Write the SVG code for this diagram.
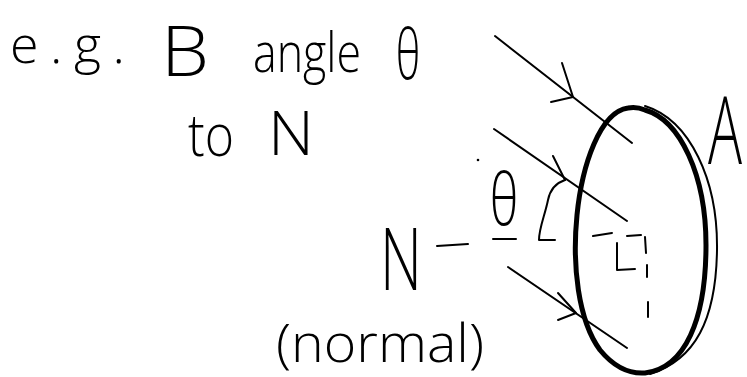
<svg xmlns="http://www.w3.org/2000/svg" width="747" height="377" viewBox="0 0 747 377">
<style>
.t{font-family:"Open Sans","Liberation Sans",sans-serif;font-weight:300;fill:#000}
.ln{fill:none;stroke:#000;stroke-width:2;stroke-linecap:round;stroke-linejoin:round}
.thick{fill:none;stroke:#000;stroke-width:5;stroke-linecap:round;stroke-linejoin:round}
</style>
<rect width="747" height="377" fill="#fff"/>
<g id="caption">
<text class="t" x="10" y="63" font-size="52" textLength="115" lengthAdjust="spacing">e.g.</text>
<text class="t" x="161" y="76" font-size="70" textLength="48" lengthAdjust="spacingAndGlyphs">B</text>
<text class="t" x="253" y="72" font-size="56" textLength="108" lengthAdjust="spacingAndGlyphs">angle</text>
<text class="t" x="396" y="79" font-size="70" textLength="24" lengthAdjust="spacingAndGlyphs">θ</text>
<text class="t" x="188" y="156" font-size="58" textLength="46" lengthAdjust="spacingAndGlyphs">to</text>
<text class="t" x="268" y="155" font-size="60" textLength="46" lengthAdjust="spacingAndGlyphs">N</text>
</g>
<g id="normal-label">
<text class="t" x="380" y="290" font-size="86" textLength="42" lengthAdjust="spacingAndGlyphs">N</text>
<line class="ln" x1="437" y1="246" x2="468" y2="244"/>
<text class="t" x="490" y="225" font-size="72" textLength="28" lengthAdjust="spacingAndGlyphs">θ</text>
<line class="ln" x1="493" y1="239" x2="516" y2="239"/>
<text class="t" x="276" y="362" font-size="54" textLength="208" lengthAdjust="spacingAndGlyphs">(normal)</text>
<circle cx="478" cy="160" r="1.3" fill="#000"/>
</g>
<g id="area">
<path class="thick" d="M628,108 C600,112 582,165 577,215 C572,265 578,320 600,350 C614,367 630,374 645,373 C685,368 706,320 706,245 C706,175 680,120 645,110 C638,107 633,107 628,108 Z"/>
<path class="ln" stroke-width="3.5" d="M645,106 C690,120 718,180 717,250 C716,320 695,360 650,374"/>
<text class="t" x="708" y="164" font-size="94" textLength="34" lengthAdjust="spacingAndGlyphs">A</text>
</g>
<g id="connectors">
<line class="ln" x1="495" y1="36" x2="632" y2="143"/>
<polyline class="ln" points="562,63 573,97 551,102"/>
<line class="ln" x1="494" y1="129" x2="627" y2="221"/>
<polyline class="ln" points="553,156 565,180"/>
<path class="ln" d="M565,180 C556,183 550,190 548,200 C545,215 539,228 539,240 L555,240"/>
<line class="ln" x1="508" y1="267" x2="627" y2="348"/>
<polyline class="ln" points="558,293 576,313 558,320"/>
<g id="right-angle">
<line class="ln" x1="593" y1="236" x2="612" y2="233"/>
<line class="ln" x1="627" y1="236" x2="641" y2="235"/>
<line class="ln" x1="645" y1="237" x2="646" y2="253"/>
<line class="ln" x1="647" y1="265" x2="647" y2="277"/>
<line class="ln" x1="648" y1="302" x2="648" y2="317"/>
<polyline class="ln" points="617,243 617,270 635,269"/>
</g>
</g>
</svg>
